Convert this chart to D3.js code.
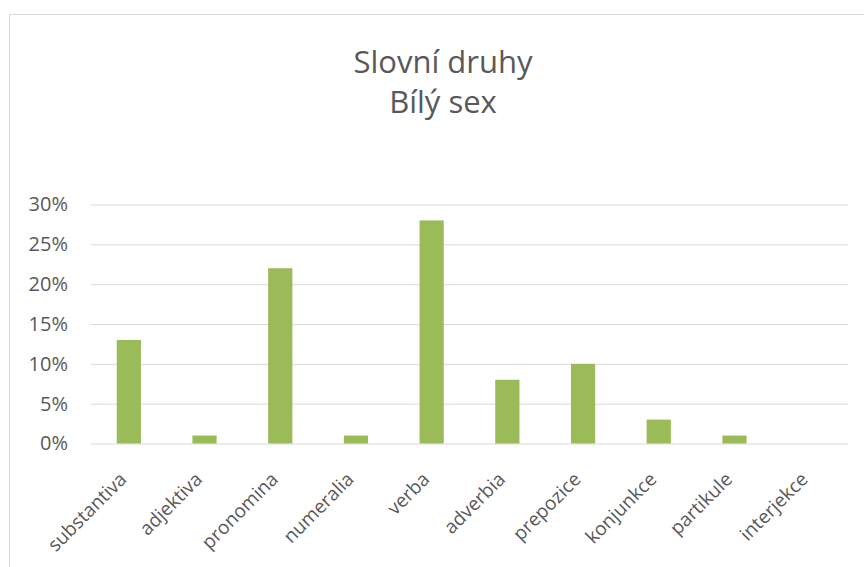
<!DOCTYPE html>
<html>
<head>
<meta charset="utf-8">
<script src="https://cdn.jsdelivr.net/npm/d3@7"></script>
<style>
  body { margin: 0; background: #fff; }
  svg { display: block; font-family: "Open Sans", "Noto Sans", sans-serif; }
</style>
</head>
<body>
<svg width="864" height="567"></svg>
<script>
var categories = ["substantiva", "adjektiva", "pronomina", "numeralia", "verba", "adverbia", "prepozice", "konjunkce", "partikule", "interjekce"];
var values = [0.13, 0.01, 0.22, 0.01, 0.28, 0.08, 0.10, 0.03, 0.01, 0];
var yTicks = [0, 0.05, 0.10, 0.15, 0.20, 0.25, 0.30];
var titleLines = ["Slovní druhy", "Bílý sex"];

var svg = d3.select("svg");
var margin = { top: 204.5, bottom: 123.5, left: 91, right: 16 };
var width = 864 - margin.left - margin.right;
var height = 567 - margin.top - margin.bottom;

// chart frame
svg.append("rect")
    .attr("x", 9.5).attr("y", 14.5)
    .attr("width", 900).attr("height", 600)
    .attr("fill", "none")
    .attr("stroke", "#d9d9d9");

svg.append("g").selectAll("text")
    .data(titleLines)
    .enter().append("text")
    .attr("x", 443)
    .attr("y", function (d, i) { return 73 + i * 40; })
    .attr("text-anchor", "middle")
    .attr("font-size", 31)
    .attr("fill", "#595959")
    .text(function (d) { return d; });

const xscale = d3.scaleBand()
    .domain(categories)
    .range([0, width])
    .paddingInner(0.68)
    .paddingOuter(0.34);
const yscale = d3.scaleLinear()
    .domain([0, 0.30])
    .range([height, 0]);

var g = svg.append("g")
    .attr("transform", `translate(${margin.left}, ${margin.top})`);

const yAxis = d3.axisLeft(yscale)
    .tickValues(yTicks)
    .tickSize(-width)
    .tickFormat(d3.format(".0%"));
var ya = g.append("g").call(yAxis);
ya.select(".domain").remove();
ya.selectAll("line").attr("stroke", "#d9d9d9").attr("stroke-width", 1);
ya.selectAll("text")
    .attr("x", -23)
    .attr("font-size", 20)
    .attr("font-family", "Open Sans, sans-serif")
    .attr("fill", "#595959");

g.selectAll("rect.bar")
    .data(values)
    .enter().append("rect")
    .attr("class", "bar")
    .attr("x", function (d, i) { return xscale(categories[i]); })
    .attr("y", function (d) { return yscale(d); })
    .attr("width", xscale.bandwidth())
    .attr("height", function (d) { return height - yscale(d); })
    .attr("fill", "#9bbb59");

const xAxis = d3.axisBottom(xscale).tickSize(0);
var xa = g.append("g")
    .attr("transform", `translate(0, ${height})`)
    .call(xAxis);
xa.select(".domain").remove();
xa.selectAll("text")
    .attr("font-size", 19)
    .attr("font-family", "Open Sans, sans-serif")
    .attr("fill", "#595959")
    .attr("text-anchor", "end")
    .attr("dy", 0)
    .attr("y", 0)
    .attr("transform", "translate(-1, 37) rotate(-45)");
</script>
</body>
</html>
